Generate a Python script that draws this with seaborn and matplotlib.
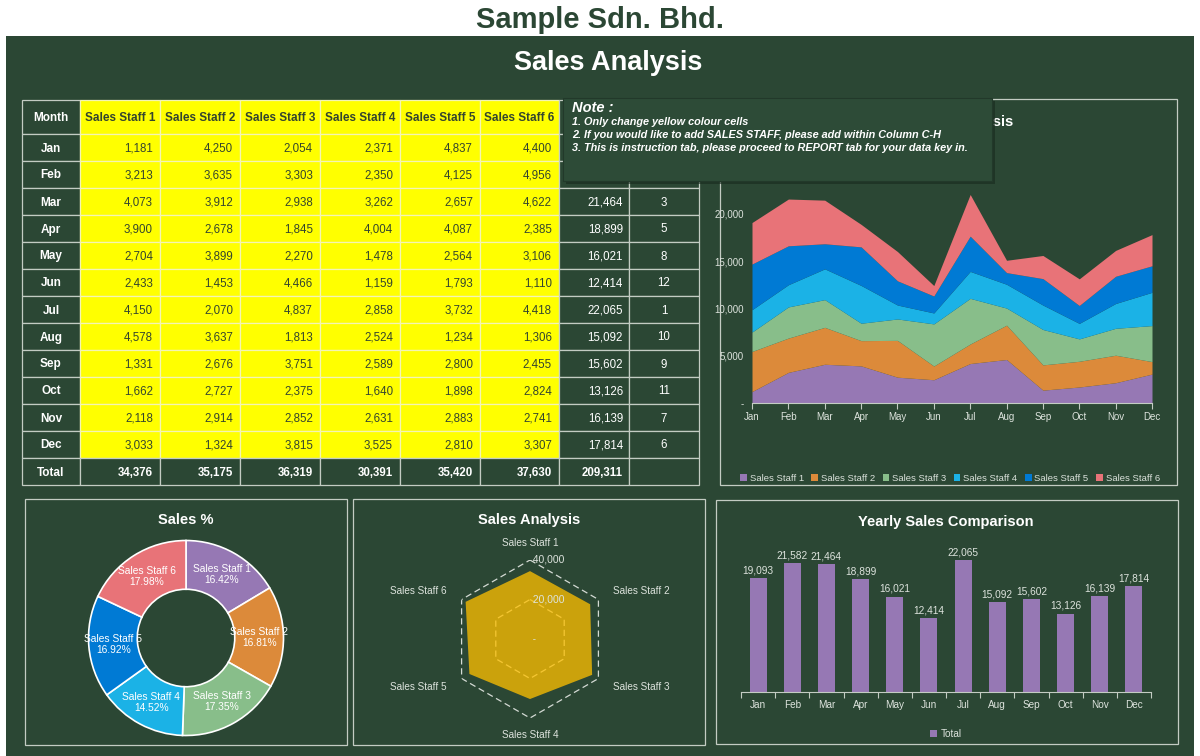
import numpy as np
import pandas as pd
import matplotlib
matplotlib.use("Agg")
import matplotlib.pyplot as plt
from matplotlib.patches import Rectangle, Patch
import seaborn as sns

# ---- data ----
months = ["Jan", "Feb", "Mar", "Apr", "May", "Jun", "Jul", "Aug", "Sep", "Oct", "Nov", "Dec"]
staff_names = ["Sales Staff 1", "Sales Staff 2", "Sales Staff 3",
               "Sales Staff 4", "Sales Staff 5", "Sales Staff 6"]
staff_1 = [1181, 3213, 4073, 3900, 2704, 2433, 4150, 4578, 1331, 1662, 2118, 3033]
staff_2 = [4250, 3635, 3912, 2678, 3899, 1453, 2070, 3637, 2676, 2727, 2914, 1324]
staff_3 = [2054, 3303, 2938, 1845, 2270, 4466, 4837, 1813, 3751, 2375, 2852, 3815]
staff_4 = [2371, 2350, 3262, 4004, 1478, 1159, 2858, 2524, 2589, 1640, 2631, 3525]
staff_5 = [4837, 4125, 2657, 4087, 2564, 1793, 3732, 1234, 2800, 1898, 2883, 2810]
staff_6 = [4400, 4956, 4622, 2385, 3106, 1110, 4418, 1306, 2455, 2824, 2741, 3307]
area_ticks = [0, 5000, 10000, 15000, 20000]
area_tick_labels = ["-", "5,000", "10,000", "15,000", "20,000"]
radar_levels = [20000, 40000]
radar_level_labels = ["20,000", "40,000"]
note_lines = [
    "1. Only change yellow colour cells",
    "2. If you would like to add SALES STAFF, please add within Column C-H",
    "3. This is instruction tab, please proceed to REPORT tab for your data key in.",
]

df = pd.DataFrame(dict(zip(staff_names, [staff_1, staff_2, staff_3, staff_4, staff_5, staff_6])),
                  index=months)
df["Total"] = df[staff_names].sum(axis=1)
df["Rank"] = df["Total"].rank(ascending=False).astype(int)
staff_totals = df[staff_names].sum()
grand_total = df["Total"].sum()

# ---- style ----
W, H = 1200, 756
BG = "#2B4734"
LIGHT = "#DDE3DD"
EDGE = "#C3CCC3"
YELLOW = "#FFFF00"
DARK_TXT = "#34452F"
staff_colors = ["#9678B4", "#DC8A3A", "#88BE8A", "#1BB2E6", "#007AD4", "#E87378"]
BAR_PURPLE = "#9678B4"
GOLD = "#FFC000"

sns.set_theme(style="white")
plt.rcParams["font.family"] = ["Liberation Sans", "DejaVu Sans"]

fig = plt.figure(figsize=(W / 100, H / 100), dpi=100, facecolor="white")


def ax_px(x0, y0, x1, y1, **kw):
    # axes placed by pixel box (y measured from top)
    return fig.add_axes([x0 / W, 1 - y1 / H, (x1 - x0) / W, (y1 - y0) / H], **kw)


bg = ax_px(0, 0, W, H)
bg.set_xlim(0, W); bg.set_ylim(H, 0); bg.axis("off")

bg.add_patch(Rectangle((6, 36), 1188, 720, facecolor=BG, lw=0))
bg.text(600, 20, "Sample Sdn. Bhd.", ha="center", va="center", fontsize=21,
        fontweight="bold", color=BG)
bg.text(608, 63, "Sales Analysis", ha="center", va="center", fontsize=19.5,
        fontweight="bold", color="white")

# ---- table ----
col_edges = [22, 80, 160, 240, 320, 400, 480, 559, 629, 699]
head_top, head_bot, row_h = 100, 134, 27
columns = ["Month"] + staff_names + ["Total", "Rank"]
YEL_EDGE = "#F4F4B4"
NOTE_X0, NOTE_Y1 = 563, 181   # cells fully under the note keep no text


def cell(j, y0, y1, face, edge):
    bg.add_patch(Rectangle((col_edges[j], y0), col_edges[j + 1] - col_edges[j], y1 - y0,
                           facecolor=face, edgecolor=edge, lw=0.9))


def hidden(j, y1):
    return col_edges[j] >= NOTE_X0 - 5 and y1 <= NOTE_Y1 + 8


for j, name in enumerate(columns):
    yel = 1 <= j <= 6
    cell(j, head_top, head_bot, YELLOW if yel else BG, YEL_EDGE if yel else EDGE)
    if not hidden(j, head_bot):
        bg.text((col_edges[j] + col_edges[j + 1]) / 2, (head_top + head_bot) / 2 + 1, name,
                ha="center", va="center", fontsize=8.5, fontweight="bold",
                color=DARK_TXT if yel else "white")

for i, m in enumerate(months):
    y0 = head_bot + i * row_h
    y1 = y0 + row_h
    yc = (y0 + y1) / 2 + 1
    cell(0, y0, y1, BG, EDGE)
    bg.text((col_edges[0] + col_edges[1]) / 2, yc, m, ha="center", va="center",
            fontsize=8.5, fontweight="bold", color="white")
    for j, name in enumerate(staff_names, start=1):
        cell(j, y0, y1, YELLOW, YEL_EDGE)
        bg.text(col_edges[j + 1] - 7, yc, f"{df.loc[m, name]:,}", ha="right", va="center",
                fontsize=8.3, color=DARK_TXT)
    cell(7, y0, y1, BG, EDGE)
    cell(8, y0, y1, BG, EDGE)
    if not hidden(7, y1):
        bg.text(col_edges[8] - 6, yc, f"{df.loc[m, 'Total']:,}", ha="right", va="center",
                fontsize=8.3, color="white")
        bg.text((col_edges[8] + col_edges[9]) / 2, yc, str(df.loc[m, "Rank"]), ha="center",
                va="center", fontsize=8.3, color="white")

y0 = head_bot + len(months) * row_h
y1 = y0 + row_h
yc = (y0 + y1) / 2 + 1
for j in range(len(columns)):
    cell(j, y0, y1, BG, EDGE)
bg.text((col_edges[0] + col_edges[1]) / 2, yc, "Total", ha="center", va="center",
        fontsize=8.5, fontweight="bold", color="white")
for j, name in enumerate(staff_names, start=1):
    bg.text(col_edges[j + 1] - 7, yc, f"{staff_totals[name]:,}", ha="right", va="center",
            fontsize=8.3, fontweight="bold", color="white")
bg.text(col_edges[8] - 6, yc, f"{grand_total:,}", ha="right", va="center",
        fontsize=8.3, fontweight="bold", color="white")

# ---- panels ----
for (x0, y0_, x1, y1_) in [(720, 99, 1177, 485), (25, 499, 347, 745),
                           (353, 499, 705, 745), (716, 500, 1178, 744)]:
    bg.add_patch(Rectangle((x0, y0_), x1 - x0, y1_ - y0_, fill=False, edgecolor=EDGE, lw=0.9))

bg.text(1013, 122, "Sales Analysis", ha="right", va="center", fontsize=10.5,
        fontweight="bold", color="white")
bg.text(186, 520, "Sales %", ha="center", va="center", fontsize=10.5,
        fontweight="bold", color="white")
bg.text(529, 520, "Sales Analysis", ha="center", va="center", fontsize=10.5,
        fontweight="bold", color="white")
bg.text(946, 522, "Yearly Sales Comparison", ha="center", va="center", fontsize=10.5,
        fontweight="bold", color="white")

# ---- stacked area ----
ax = ax_px(752, 166.8, 1152, 402.7)
ax.set_facecolor("none")
x = np.arange(len(months))
ax.stackplot(x, *[df[n].values for n in staff_names], colors=staff_colors, lw=0)
ax.set_xlim(0, len(months) - 1)
ax.set_ylim(0, 25000)
ax.set_xticks(x, months)
ax.set_yticks(area_ticks, area_tick_labels)
ax.tick_params(axis="x", colors=EDGE, labelcolor=LIGHT, labelsize=7, length=4, width=0.8,
               direction="out", bottom=True, pad=3)
ax.tick_params(axis="y", labelcolor=LIGHT, labelsize=7, length=0, pad=6)
for s in ["top", "right", "left"]:
    ax.spines[s].set_visible(False)
ax.spines["bottom"].set_color(EDGE)
ax.spines["bottom"].set_linewidth(0.8)
handles = [Patch(facecolor=c, edgecolor="none", label=n) for c, n in zip(staff_colors, staff_names)]
fig.legend(handles=handles, loc="center", bbox_to_anchor=(950 / W, 1 - 478 / H), ncol=6,
           frameon=False, fontsize=6.8, labelcolor=LIGHT, handlelength=0.7, handleheight=0.7,
           handletextpad=0.3, columnspacing=0.8)

# ---- donut ----
r_px = 97.5 * 1.25
ax = ax_px(186 - r_px, 638 - r_px, 186 + r_px, 638 + r_px)
wedges, texts, autotexts = ax.pie(staff_totals.values, colors=staff_colors, startangle=90,
                                  counterclock=False, autopct="%.2f%%", pctdistance=0.75,
                                  wedgeprops=dict(width=0.5, edgecolor="white", linewidth=1.2),
                                  textprops=dict(color="white", fontsize=7.4))
for t, n in zip(autotexts, staff_names):
    t.set_text(f"{n}\n{t.get_text()}")
    t.set_linespacing(1.15)

# ---- radar ----
ax = ax_px(530 - 79, 639 - 79, 530 + 79, 639 + 79, projection="polar")
ax.set_facecolor("none")
ax.set_theta_zero_location("N")
ax.set_theta_direction(-1)
ang = np.arange(len(staff_names)) * 2 * np.pi / len(staff_names)
ang_c = np.append(ang, ang[0])
for lvl, lab in zip(radar_levels, radar_level_labels):
    ax.plot(ang_c, [lvl] * len(ang_c), color="#D4DAD4", lw=0.9, ls=(0, (5, 3)), zorder=1)
    ax.text(0, lvl, " " + lab, ha="left", va="center", fontsize=7.4, color=LIGHT, zorder=3)
ax.text(0, 0, " -", ha="left", va="center", fontsize=7, color=LIGHT, zorder=3)
vals = staff_totals.values
ax.fill(ang_c, np.append(vals, vals[0]), color=GOLD, alpha=0.76, lw=0, zorder=2)
ax.set_ylim(0, 40000)
ax.grid(False)
ax.spines["polar"].set_visible(False)
ax.set_xticks([]); ax.set_yticks([])
for a, n in zip(ang, staff_names):
    s = np.sin(a)
    ha = "center" if abs(s) < 0.1 else ("left" if s > 0 else "right")
    ax.text(a, 48500, n, ha=ha, va="center", fontsize=7.2, color=LIGHT, clip_on=False)

# ---- yearly bars ----
ax = ax_px(741, 543, 1151, 692)
ax.set_facecolor("none")
sns.barplot(x=months, y=df["Total"].values, color=BAR_PURPLE, width=0.5, saturation=1,
            ax=ax, errorbar=None, edgecolor="none", linewidth=0)
ax.bar_label(ax.containers[0], labels=[f"{v:,}" for v in df["Total"]], padding=2,
             fontsize=7.3, color=LIGHT)
ax.set_xlim(-0.5, len(months) - 0.5)
ax.set_ylim(0, 25000)
ax.set_xlabel(""); ax.set_ylabel("")
ax.set_yticks([])
ax.set_xticks(np.arange(-0.5, len(months)), minor=True)
ax.tick_params(axis="x", which="major", length=0, labelcolor=LIGHT, labelsize=7.2, pad=6)
ax.tick_params(axis="x", which="minor", length=4, width=0.8, color=EDGE, direction="out",
               bottom=True)
for s in ["top", "right", "left"]:
    ax.spines[s].set_visible(False)
ax.spines["bottom"].set_color(EDGE)
ax.spines["bottom"].set_linewidth(0.8)
fig.legend(handles=[Patch(facecolor=BAR_PURPLE, edgecolor="none", label="Total")], loc="center",
           bbox_to_anchor=(946 / W, 1 - 734 / H), frameon=False, fontsize=7.2,
           labelcolor=LIGHT, handlelength=0.7, handleheight=0.7, handletextpad=0.3)

# ---- note overlay ----
top = ax_px(0, 0, W, H, zorder=10)
top.set_xlim(0, W); top.set_ylim(H, 0); top.axis("off")
top.add_patch(Rectangle((566, 101), 429, 83, facecolor="#182A1E", alpha=0.6, lw=0))
top.add_patch(Rectangle((563, 98), 429, 83, facecolor="#2D4B37", edgecolor="#22392A", lw=0.8))
top.text(572, 108, "Note :", ha="left", va="center", fontsize=10.5, fontweight="bold",
         fontstyle="italic", color="white")
for k, line in enumerate(note_lines):
    top.text(572, 122.3 + k * 12.7, line, ha="left", va="center", fontsize=7.8,
             fontweight="bold", fontstyle="italic", color="white")

fig.savefig("out.png", dpi=100, facecolor="white")
